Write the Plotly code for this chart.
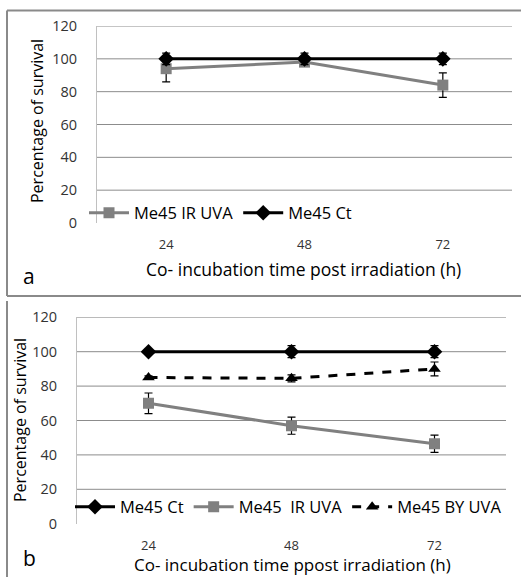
import plotly.graph_objects as go

# ---------------- data ----------------
hours = ["24", "48", "72"]

# panel a
a_ir_uva = [94, 98, 84]
a_ir_uva_err = [8, 2, 7.5]
a_ct = [100, 100, 100]
a_ct_err = [3.5, 3.5, 3.5]

# panel b
b_ct = [100, 100, 100]
b_ct_err = [1, 3.5, 3.5]
b_ir_uva = [70, 57, 46.5]
b_ir_uva_err = [6, 5, 5]
b_by_uva = [85, 84.5, 90]
b_by_uva_err = [1, 2, 4]

y_ticks = [0, 20, 40, 60, 80, 100, 120]

W, H = 521, 577
FONT = "Open Sans"


def px(x):
    return x / W


def py(y):
    return 1 - y / H


GRAY = "#808080"
fig = go.Figure()


def err(vals):
    return dict(type="data", array=vals, color="black", thickness=1.2, width=4)


# panel a traces
fig.add_trace(go.Scatter(x=hours, y=a_ir_uva, name="Me45 IR UVA", mode="lines+markers",
                         line=dict(color=GRAY, width=3),
                         marker=dict(symbol="square", size=11, color=GRAY),
                         error_y=err(a_ir_uva_err), xaxis="x", yaxis="y", legend="legend"))
fig.add_trace(go.Scatter(x=hours, y=a_ct, name="Me45 Ct", mode="lines+markers",
                         line=dict(color="black", width=3),
                         marker=dict(symbol="diamond", size=12, color="black"),
                         error_y=err(a_ct_err), xaxis="x", yaxis="y", legend="legend"))

# panel b traces
fig.add_trace(go.Scatter(x=hours, y=b_ct, name="Me45 Ct", mode="lines+markers",
                         line=dict(color="black", width=3),
                         marker=dict(symbol="diamond", size=12, color="black"),
                         error_y=err(b_ct_err), xaxis="x2", yaxis="y2", legend="legend2"))
fig.add_trace(go.Scatter(x=hours, y=b_ir_uva, name="Me45  IR UVA", mode="lines+markers",
                         line=dict(color=GRAY, width=3),
                         marker=dict(symbol="square", size=11, color=GRAY),
                         error_y=err(b_ir_uva_err), xaxis="x2", yaxis="y2", legend="legend2"))
fig.add_trace(go.Scatter(x=hours, y=b_by_uva, name="Me45 BY UVA", mode="lines+markers",
                         line=dict(color="black", width=3, dash="dash"),
                         marker=dict(symbol="triangle-up", size=11, color="black"),
                         error_y=err(b_by_uva_err), xaxis="x2", yaxis="y2", legend="legend2"))

xcommon = dict(type="category", range=[-0.5, 2.5], showgrid=False, zeroline=False,
               showline=False, ticks="", tickfont=dict(family=FONT, size=13, color="#333"),
               ticklabelstandoff=12, fixedrange=True, automargin=False)
ycommon = dict(range=[0, 120], tickvals=y_ticks, showgrid=False, zeroline=False,
               showline=True, linecolor="#c0c0c0", linewidth=1, ticks="", automargin=False,
               tickfont=dict(family=FONT, size=14.5, color="#333"), ticklabelstandoff=16)

layout_a = dict(x0=97, x1=512, y0=26, y1=223)
layout_b = dict(x0=77, x1=506, y0=317.3, y1=523.7)

fig.update_layout(
    width=W, height=H, margin=dict(l=0, r=0, t=0, b=0, pad=0, autoexpand=False),
    paper_bgcolor="white", plot_bgcolor="white", showlegend=True,
    xaxis=dict(xcommon, domain=[px(layout_a["x0"]), px(layout_a["x1"])], anchor="y"),
    yaxis=dict(ycommon, domain=[py(layout_a["y1"]), py(layout_a["y0"])], anchor="x"),
    xaxis2=dict(xcommon, domain=[px(layout_b["x0"]), px(layout_b["x1"])], anchor="y2"),
    yaxis2=dict(ycommon, domain=[py(layout_b["y1"]), py(layout_b["y0"])], anchor="x2"),
    legend=dict(orientation="h", x=px(84), y=py(213), xanchor="left", yanchor="middle",
                bgcolor="rgba(0,0,0,0)", font=dict(family=FONT, size=16.5, color="black"),
                itemwidth=40, tracegroupgap=0),
    legend2=dict(orientation="h", x=px(70), y=py(507), xanchor="left", yanchor="middle",
                 bgcolor="rgba(0,0,0,0)", font=dict(family=FONT, size=16.5, color="black"),
                 itemwidth=40, tracegroupgap=0),
)

# gridlines (20..120, none at 0)
shapes = []
for ax, L in (("", layout_a), ("2", layout_b)):
    for v in y_ticks[1:]:
        shapes.append(dict(type="line", xref=f"x{ax} domain", yref=f"y{ax}", x0=0, x1=1,
                           y0=v, y1=v, line=dict(color="#8c8c8c", width=1), layer="below"))
# panel borders
shapes.append(dict(type="line", xref="paper", yref="paper", x0=px(7), x1=1.01, y0=py(10.5), y1=py(10.5),
                   line=dict(color="#8a8a8a", width=2)))
shapes.append(dict(type="line", xref="paper", yref="paper", x0=px(7), x1=px(7), y0=py(10.5), y1=py(296),
                   line=dict(color="#8a8a8a", width=2)))
shapes.append(dict(type="line", xref="paper", yref="paper", x0=px(7), x1=1.01, y0=py(296), y1=py(296),
                   line=dict(color="#8a8a8a", width=2)))
shapes.append(dict(type="line", xref="paper", yref="paper", x0=px(7), x1=px(7), y0=py(301), y1=-0.01,
                   line=dict(color="#8a8a8a", width=2)))
fig.update_layout(shapes=shapes)

ann = []
ann.append(dict(text="Percentage of survival", x=px(37), y=py(121), textangle=-90,
                font=dict(family=FONT, size=16, color="black")))
ann.append(dict(text="Percentage of survival", x=px(20), y=py(420), textangle=-90,
                font=dict(family=FONT, size=16, color="black")))
ann.append(dict(text="Co- incubation time post irradiation (h)", x=px(303), y=py(269),
                font=dict(family=FONT, size=17.5, color="black")))
ann.append(dict(text="Co- incubation time ppost irradiation (h)", x=px(292), y=py(564),
                font=dict(family=FONT, size=17, color="black")))
ann.append(dict(text="a", x=px(29), y=py(276), font=dict(family=FONT, size=21, color="black")))
ann.append(dict(text="b", x=px(29), y=py(558), font=dict(family=FONT, size=21, color="black")))
for a in ann:
    a.update(xref="paper", yref="paper", showarrow=False, xanchor="center", yanchor="middle")
fig.update_layout(annotations=ann)

fig.write_html("out.html", config={"displayModeBar": False},
               post_script="document.body.style.margin='0';")
